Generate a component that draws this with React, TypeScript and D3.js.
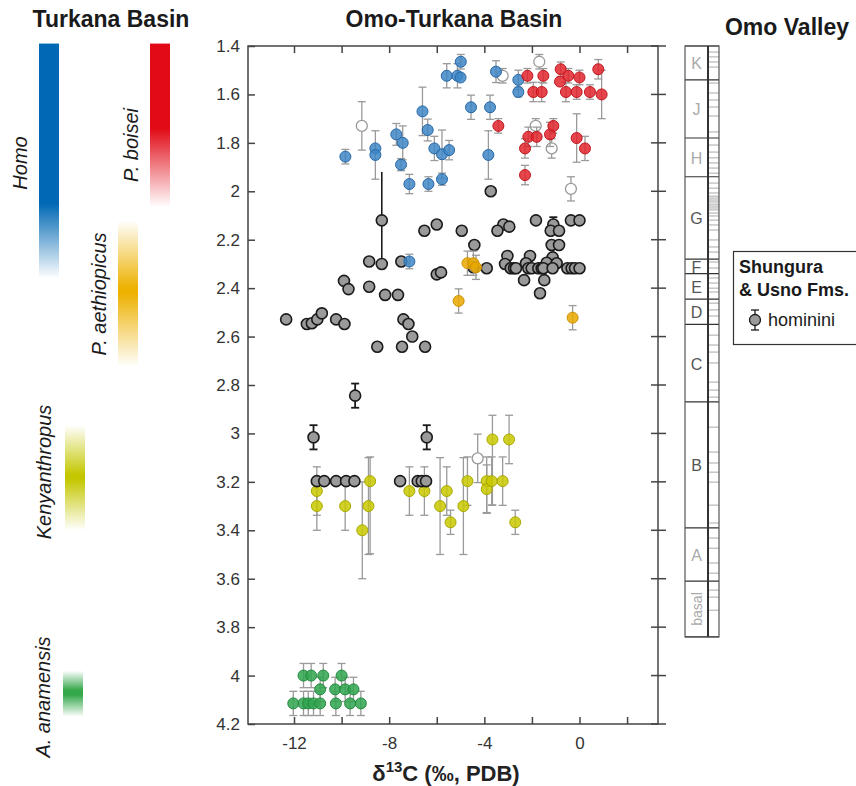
import React, { useEffect, useRef } from 'react';
import * as d3 from 'd3';

// each point: [d13C, age (Ma), error toward younger, error toward older]
const homoPts = [
  [-9.84, 1.857, 0.03, 0.03], [-8.58, 1.823, 0, 0], [-8.58, 1.85, 0.1, 0.1],
  [-7.7, 1.765, 0.045, 0.045], [-7.43, 1.8, 0.07, 0.07], [-7.5, 1.89, 0.025, 0.025],
  [-7.15, 1.97, 0.04, 0.04], [-6.6, 1.67, 0.1, 0.1], [-6.38, 1.747, 0.045, 0.045],
  [-6.35, 1.97, 0.03, 0.03], [-6.1, 1.823, 0.05, 0.05], [-5.78, 1.847, 0.1, 0.1],
  [-5.78, 1.95, 0.025, 0.025], [-5.48, 1.83, 0.04, 0.04], [-5.58, 1.523, 0.05, 0.05],
  [-5.13, 1.523, 0.05, 0.05], [-5.0, 1.53, 0, 0], [-4.99, 1.465, 0.03, 0.03],
  [-4.56, 1.653, 0.05, 0.05], [-3.76, 1.653, 0.05, 0.05], [-3.51, 1.506, 0.045, 0.045],
  [-2.57, 1.54, 0.04, 0.04], [-2.57, 1.59, 0.02, 0.02], [-3.83, 1.85, 0.1, 0.1],
  [-7.15, 2.29, 0.03, 0.03],
];

const boiseiPts = [
  [-2.19, 1.523, 0.03, 0.03], [-1.52, 1.523, 0.03, 0.03], [-0.79, 1.496, 0.03, 0.03],
  [-0.47, 1.523, 0.03, 0.03], [0, 1.53, 0.03, 0.03], [0.79, 1.496, 0.04, 0.04],
  [-0.82, 1.547, 0, 0], [-1.94, 1.59, 0.04, 0.04], [-1.59, 1.59, 0.04, 0.04],
  [-0.57, 1.59, 0.04, 0.04], [-0.12, 1.59, 0.03, 0.03], [0.44, 1.59, 0.03, 0.03],
  [0.93, 1.6, 0.1, 0.1], [-3.41, 1.73, 0.03, 0.03], [-2.15, 1.775, 0.04, 0.04],
  [-1.8, 1.775, 0.04, 0.04], [-1.24, 1.765, 0.05, 0.05], [-1.1, 1.73, 0.03, 0.03],
  [-2.29, 1.823, 0.04, 0.04], [-0.12, 1.78, 0.1, 0.1], [0.23, 1.823, 0.05, 0.05],
  [-2.29, 1.933, 0.04, 0.04],
];

const aethiopicusPts = [
  [-4.71, 2.297, 0.05, 0.05], [-4.46, 2.297, 0.05, 0.05], [-4.35, 2.314, 0.05, 0.05],
  [-5.08, 2.453, 0.05, 0.05], [-0.29, 2.522, 0.05, 0.05],
];

const kenyanthropusPts = [
  [-11.04, 3.238, 0.1, 0.1], [-11.04, 3.3, 0.1, 0.1], [-9.85, 3.3, 0.1, 0.1],
  [-9.13, 3.4, 0.2, 0.2], [-8.87, 3.3, 0.2, 0.2], [-8.8, 3.197, 0.1, 0.3],
  [-7.15, 3.238, 0.1, 0.1], [-6.52, 3.238, 0.1, 0.1], [-5.86, 3.3, 0.2, 0.2],
  [-5.58, 3.238, 0.1, 0.1], [-5.42, 3.367, 0.05, 0.05], [-4.88, 3.3, 0.2, 0.2],
  [-4.71, 3.197, 0.1, 0.1], [-3.9, 3.197, 0.1, 0.13], [-3.9, 3.23, 0.1, 0.1],
  [-3.69, 3.197, 0.1, 0.1], [-3.66, 3.025, 0.1, 0.27], [-3.23, 3.197, 0.1, 0.1],
  [-2.96, 3.025, 0.1, 0.1], [-2.7, 3.367, 0.05, 0.05],
];

const anamensisPts = [
  [-11.6, 4.0, 0.05, 0.05], [-11.28, 4.0, 0.05, 0.05], [-10.77, 4.0, 0.05, 0.05], [-10.0, 4.0, 0.05, 0.05],
  [-10.9, 4.057, 0.05, 0.05], [-10.27, 4.057, 0.05, 0.05], [-9.85, 4.057, 0.05, 0.05], [-9.5, 4.057, 0.05, 0.05],
  [-12.03, 4.115, 0.05, 0.05], [-11.6, 4.115, 0.05, 0.05], [-11.4, 4.115, 0.05, 0.05], [-11.18, 4.115, 0.05, 0.05],
  [-10.9, 4.115, 0.05, 0.05], [-10.24, 4.115, 0.05, 0.05], [-9.64, 4.115, 0.05, 0.05], [-9.19, 4.115, 0.05, 0.05],
];

const unassignedPts = [
  [-9.15, 1.73, 0.1, 0.1], [-3.23, 1.523, 0.03, 0.03], [-1.69, 1.465, 0.03, 0.03],
  [-1.84, 1.73, 0.03, 0.03], [-1.17, 1.823, 0.04, 0.04], [-0.36, 1.99, 0.05, 0.05],
  [-4.28, 3.103, 0.1, 0.1],
];

const homininiPts = [
  [-8.31, 2.12, 0, 0], [-8.31, 2.3, 0, 0], [-8.84, 2.29, 0, 0], [-7.49, 2.29, 0, 0],
  [-6.52, 2.163, 0, 0], [-6.0, 2.137, 0, 0], [-6.0, 2.343, 0, 0], [-5.82, 2.335, 0, 0],
  [-9.9, 2.37, 0, 0], [-9.71, 2.404, 0, 0], [-8.84, 2.394, 0, 0], [-8.17, 2.428, 0, 0],
  [-7.63, 2.428, 0, 0], [-12.33, 2.529, 0, 0], [-11.46, 2.548, 0, 0], [-11.25, 2.545, 0, 0],
  [-11.02, 2.529, 0, 0], [-10.83, 2.504, 0, 0], [-10.23, 2.529, 0, 0], [-9.88, 2.548, 0, 0],
  [-7.4, 2.529, 0, 0], [-7.19, 2.548, 0, 0], [-7.03, 2.6, 0, 0], [-8.5, 2.642, 0, 0],
  [-7.46, 2.642, 0, 0], [-6.49, 2.642, 0, 0], [-3.73, 2.0, 0, 0], [-4.95, 2.163, 0, 0],
  [-3.2, 2.137, 0, 0], [-2.95, 2.146, 0, 0], [-3.45, 2.163, 0, 0], [-1.83, 2.12, 0, 0],
  [-1.1, 2.137, 0.03, 0], [-1.21, 2.163, 0, 0], [-0.86, 2.163, 0, 0], [-0.36, 2.12, 0, 0],
  [0, 2.12, 0, 0], [-4.42, 2.222, 0, 0], [-1.17, 2.222, 0, 0], [-0.86, 2.222, 0, 0],
  [-3.03, 2.267, 0, 0], [-2.08, 2.267, 0, 0], [-1.13, 2.273, 0, 0], [-3.13, 2.3, 0, 0],
  [-2.25, 2.297, 0, 0], [-1.38, 2.295, 0, 0], [-0.96, 2.297, 0, 0],
  [-3.9, 2.318, 0, 0], [-2.89, 2.318, 0, 0], [-2.75, 2.318, 0, 0], [-2.67, 2.318, 0, 0],
  [-2.15, 2.318, 0, 0], [-2.01, 2.318, 0, 0], [-1.73, 2.318, 0, 0], [-1.59, 2.318, 0, 0],
  [-1.52, 2.318, 0, 0], [-1.13, 2.318, 0, 0], [-0.51, 2.318, 0, 0], [-0.33, 2.318, 0, 0],
  [-0.19, 2.318, 0, 0], [0, 2.318, 0, 0], [-4.46, 2.314, 0, 0],
  [-2.33, 2.367, 0, 0], [-1.48, 2.367, 0, 0], [-1.66, 2.421, 0, 0],
  [-9.43, 2.844, 0.05, 0.05], [-11.18, 3.016, 0.05, 0.05], [-6.42, 3.016, 0.05, 0.05],
  [-11.04, 3.197, 0, 0], [-10.73, 3.197, 0, 0], [-10.23, 3.197, 0, 0], [-9.81, 3.197, 0, 0],
  [-9.46, 3.197, 0, 0], [-7.54, 3.197, 0, 0], [-6.8, 3.197, 0, 0], [-6.63, 3.197, 0, 0],
  [-6.45, 3.197, 0, 0],
];
// age range line without caps: [d13C, youngest, oldest]
const homininiRanges = [[-8.31, 1.92, 2.3]];

// Turkana Basin taxon ranges (Ma)
const taxa = ['Homo', 'P. boisei', 'P. aethiopicus', 'Kenyanthropus', 'A. anamensis'];
const taxonYoungest = [1.39, 1.39, 2.12, 2.965, 3.98];
const taxonPeakYoung = [1.39, 1.39, 2.4, 3.17, 4.06];
const taxonPeakOld = [2.05, 1.74, 2.42, 3.19, 4.08];
const taxonOldest = [2.36, 2.065, 2.725, 3.4, 4.17];
const taxonColors = ['#0068b4', '#e10a16', '#edb100', '#c4c700', '#36a84c'];

// Shungura Formation members
const members = ['K', 'J', 'H', 'G', 'F', 'E', 'D', 'C', 'B', 'A', 'basal'];
const memberBounds = [1.4, 1.54, 1.78, 1.94, 2.28, 2.34, 2.445, 2.55, 2.87, 3.39, 3.61, 3.84];
const memberDark = [false, false, false, true, true, true, true, true, true, false, false];
const tuffAges = [
  1.425, 1.445, 1.466, 1.487, 1.553, 1.594, 1.623, 1.652, 1.689, 1.755, 1.809, 1.838,
  1.862, 1.883, 1.904, 1.925, 1.966, 1.987, 2.007, 2.02, 2.028, 2.036, 2.044, 2.053,
  2.061, 2.069, 2.077, 2.09, 2.102, 2.119, 2.139, 2.16, 2.201, 2.23, 2.251, 2.292,
  2.317, 2.358, 2.379, 2.4, 2.416, 2.462, 2.49, 2.515, 2.594, 2.635, 2.664, 2.709,
  2.788, 2.821, 2.85, 2.974, 3.077, 3.122, 3.16, 3.201, 3.296, 3.37, 3.432, 3.474,
  3.535, 3.577, 3.647, 3.676, 3.73,
];

const yTicks = d3.range(14, 43, 2).map((v) => v / 10);
const xTicks = [-12, -10, -8, -6, -4, -2, 0, 2];
const xLabelled = [-12, -8, -4, 0];

const FONT = "'Liberation Sans', Arial, Helvetica, sans-serif";

const App = () => {
  const ref = useRef<SVGSVGElement>(null);

  useEffect(() => {
    const svg = d3.select(ref.current);
    svg.selectAll('*').remove();

    const left = 248, right = 658, top = 46, bottom = 724;
    const y = d3.scaleLinear().domain([1.4, 4.2]).range([top, bottom]);
    const x = d3.scaleLinear().domain([-12, 0]).range([294, 579.5]);

    const defs = svg.append('defs');

    // titles
    const titles = [['Turkana Basin', 111, 27], ['Omo-Turkana Basin', 454, 27], ['Omo Valley', 787, 35]];
    titles.forEach(([t, tx, ty]) => {
      svg.append('text').attr('x', tx).attr('y', ty).attr('text-anchor', 'middle')
        .style('font', `bold 23px ${FONT}`).style('fill', '#1a1a1a').text(t as string);
    });

    // taxon range bars
    const barX = [39, 150, 118, 65, 63];
    const labelX = [20, 131, 99, 44, 43];
    const labelY = [163, 145, 294, 472, 697];
    taxa.forEach((name, i) => {
      const y0 = taxonYoungest[i], y1 = taxonOldest[i];
      const span = y1 - y0;
      const id = 'grad' + i;
      const g = defs.append('linearGradient').attr('id', id)
        .attr('x1', 0).attr('y1', 0).attr('x2', 0).attr('y2', 1);
      const stops = [
        [0, taxonPeakYoung[i] === y0 ? 1 : 0],
        [(taxonPeakYoung[i] - y0) / span, 1],
        [(taxonPeakOld[i] - y0) / span, 1],
        [1, 0],
      ];
      stops.forEach(([o, op]) => {
        g.append('stop').attr('offset', o).attr('stop-color', taxonColors[i]).attr('stop-opacity', op);
      });
      svg.append('rect').attr('x', barX[i]).attr('y', y(y0)).attr('width', 20)
        .attr('height', y(y1) - y(y0)).attr('fill', `url(#${id})`);
      svg.append('text').attr('transform', `translate(${labelX[i]},${labelY[i]}) rotate(-90)`)
        .attr('text-anchor', 'middle').attr('dominant-baseline', 'central')
        .style('font', `italic 20px ${FONT}`).style('fill', '#1a1a1a').text(name);
    });

    // frame
    svg.append('rect').attr('x', left).attr('y', top).attr('width', right - left).attr('height', bottom - top)
      .attr('fill', 'none').attr('stroke', '#444').attr('stroke-width', 1.5);

    const axisStyle = (g: any) => {
      g.select('.domain').remove();
      g.selectAll('line').attr('stroke', '#444').attr('stroke-width', 1.5);
      g.selectAll('text').style('font', `17px ${FONT}`).style('fill', '#333');
    };

    svg.append('g').attr('transform', `translate(${left},0)`)
      .call(d3.axisLeft(y).tickValues(yTicks).tickSize(-7).tickPadding(8).tickFormat((d: any) => String(+(+d).toFixed(1))))
      .call(axisStyle);
    svg.append('g').attr('transform', `translate(0,${bottom})`)
      .call(d3.axisBottom(x).tickValues(xTicks).tickSize(-7).tickPadding(13)
        .tickFormat((d: any) => (xLabelled.includes(+d) ? String(d) : '')))
      .call(axisStyle);
    svg.append('g').attr('transform', `translate(0,${top})`)
      .call(d3.axisTop(x).tickValues(xTicks).tickSize(-7).tickFormat(() => ''))
      .call(axisStyle);
    svg.append('g').selectAll('line').data(yTicks).join('line')
      .attr('x1', right - 7).attr('x2', right + 8).attr('y1', (d) => y(d)).attr('y2', (d) => y(d))
      .attr('stroke', '#444').attr('stroke-width', 1.5);

    // x axis label
    const xl = svg.append('text').attr('x', 446).attr('y', 781).attr('text-anchor', 'middle')
      .style('font', `bold 22px ${FONT}`).style('fill', '#222');
    xl.append('tspan').text('δ');
    xl.append('tspan').attr('dy', -9).style('font-size', '15px').text('13');
    xl.append('tspan').attr('dy', 9).text('C (‰, PDB)');

    // data
    const groups = [
      { pts: unassignedPts, fill: '#fff', stroke: '#9a9a9a', sw: 1.3, op: 1, bar: '#9a9a9a' },
      { pts: kenyanthropusPts, fill: '#c8c800', stroke: '#a9a900', sw: 1, op: 0.85, bar: '#9a9a9a' },
      { pts: anamensisPts, fill: '#2fa54e', stroke: '#23893e', sw: 1, op: 0.85, bar: '#9a9a9a' },
      { pts: homininiPts, fill: '#9a9a9a', stroke: '#1a1a1a', sw: 1.6, op: 1, bar: '#1a1a1a' },
      { pts: homoPts, fill: '#3d86c6', stroke: '#2767a6', sw: 1, op: 0.85, bar: '#9a9a9a' },
      { pts: boiseiPts, fill: '#e2242c', stroke: '#c11820', sw: 1, op: 0.85, bar: '#9a9a9a' },
      { pts: aethiopicusPts, fill: '#e9a800', stroke: '#cf9100', sw: 1, op: 0.85, bar: '#9a9a9a' },
    ];

    const plot = svg.append('g');
    homininiRanges.forEach(([dx, a0, a1]) => {
      plot.append('line').attr('x1', x(dx)).attr('x2', x(dx)).attr('y1', y(a0)).attr('y2', y(a1))
        .attr('stroke', '#1a1a1a').attr('stroke-width', 1.6);
    });
    groups.forEach((grp) => {
      const g = plot.append('g');
      const withErr = grp.pts.filter((p) => p[2] > 0 || p[3] > 0);
      const eb = g.append('g').attr('stroke', grp.bar).attr('stroke-width', grp.bar === '#1a1a1a' ? 1.8 : 1.3);
      withErr.forEach((p) => {
        const cx = x(p[0]), ya = y(p[1] - p[2]), yb = y(p[1] + p[3]);
        eb.append('line').attr('x1', cx).attr('x2', cx).attr('y1', ya).attr('y2', yb);
        if (p[2] > 0) eb.append('line').attr('x1', cx - 4).attr('x2', cx + 4).attr('y1', ya).attr('y2', ya);
        if (p[3] > 0) eb.append('line').attr('x1', cx - 4).attr('x2', cx + 4).attr('y1', yb).attr('y2', yb);
      });
      g.append('g').selectAll('circle').data(grp.pts).join('circle')
        .attr('cx', (d) => x(d[0])).attr('cy', (d) => y(d[1])).attr('r', 5.5)
        .attr('fill', grp.fill).attr('fill-opacity', grp.op)
        .attr('stroke', grp.stroke).attr('stroke-width', grp.sw);
    });

    // Omo Valley stratigraphic column
    const cl = 685, cm = 708, cr = 719;
    const col = svg.append('g');
    col.selectAll('line.tuff').data(tuffAges).join('line').attr('class', 'tuff')
      .attr('x1', cm).attr('x2', cr).attr('y1', (d) => y(d)).attr('y2', (d) => y(d))
      .attr('stroke', '#aaa').attr('stroke-width', 1);
    col.selectAll('line.bound').data(memberBounds).join('line').attr('class', 'bound')
      .attr('x1', cl).attr('x2', cr).attr('y1', (d) => y(d)).attr('y2', (d) => y(d))
      .attr('stroke', '#333').attr('stroke-width', 1.2);
    col.append('rect').attr('x', cl).attr('y', y(memberBounds[0])).attr('width', cr - cl)
      .attr('height', y(memberBounds[memberBounds.length - 1]) - y(memberBounds[0]))
      .attr('fill', 'none').attr('stroke', '#555').attr('stroke-width', 1.2);
    col.append('line').attr('x1', cm).attr('x2', cm).attr('y1', y(memberBounds[0]))
      .attr('y2', y(memberBounds[memberBounds.length - 1])).attr('stroke', '#333').attr('stroke-width', 2);
    members.forEach((m, i) => {
      const my = (y(memberBounds[i]) + y(memberBounds[i + 1])) / 2;
      const t = col.append('text').attr('text-anchor', 'middle').attr('dominant-baseline', 'central')
        .style('font', `${m === 'basal' ? 14 : 16}px ${FONT}`)
        .style('fill', memberDark[i] ? '#555' : '#aaa').text(m);
      if (m === 'basal') t.attr('transform', `translate(${(cl + cm) / 2},${my}) rotate(-90)`);
      else t.attr('x', (cl + cm) / 2).attr('y', my + 1);
    });

    // legend
    const lg = svg.append('g');
    lg.append('rect').attr('x', 733.5).attr('y', 251.5).attr('width', 140).attr('height', 93)
      .attr('fill', '#fff').attr('stroke', '#333').attr('stroke-width', 1.2);
    lg.append('text').attr('x', 739).attr('y', 273).style('font', `bold 18px ${FONT}`).style('fill', '#1a1a1a').text('Shungura');
    lg.append('text').attr('x', 739).attr('y', 296).style('font', `bold 18px ${FONT}`).style('fill', '#1a1a1a').text('& Usno Fms.');
    const sx = 755, sy = 320;
    lg.append('line').attr('x1', sx).attr('x2', sx).attr('y1', sy - 10).attr('y2', sy + 10).attr('stroke', '#1a1a1a').attr('stroke-width', 1.3);
    lg.append('line').attr('x1', sx - 4).attr('x2', sx + 4).attr('y1', sy - 10).attr('y2', sy - 10).attr('stroke', '#1a1a1a').attr('stroke-width', 1.3);
    lg.append('line').attr('x1', sx - 4).attr('x2', sx + 4).attr('y1', sy + 10).attr('y2', sy + 10).attr('stroke', '#1a1a1a').attr('stroke-width', 1.3);
    lg.append('circle').attr('cx', sx).attr('cy', sy).attr('r', 5.5).attr('fill', '#9a9a9a').attr('stroke', '#1a1a1a').attr('stroke-width', 1.3);
    lg.append('text').attr('x', 768).attr('y', 326).style('font', `18px ${FONT}`).style('fill', '#1a1a1a').text('hominini');
  }, []);

  return (
    <svg ref={ref} width={856} height={786}
      style={{ position: 'absolute', left: 0, top: 0, background: '#fff' }} />
  );
};

export default App;
